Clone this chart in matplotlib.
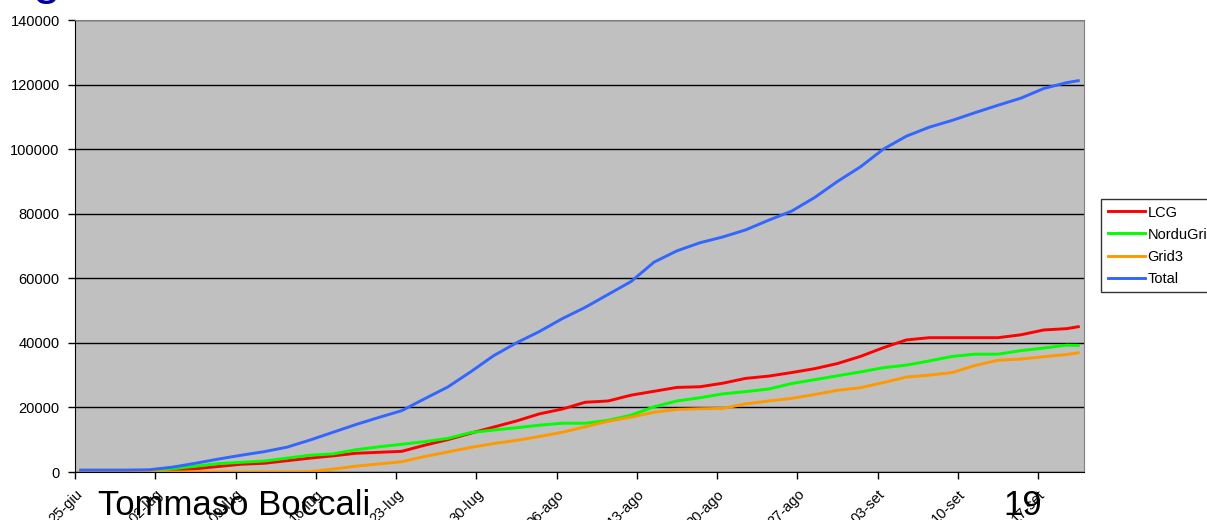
import matplotlib.pyplot as plt
import numpy as np

plt.rcParams['font.family'] = ['Liberation Sans', 'DejaVu Sans']

# days from 25-giu, sampled every 2 days (last point on day 87)
days = [0, 2, 4, 6, 8, 10, 12, 14, 16, 18, 20, 22, 24, 26, 28, 30, 32, 34, 36, 38,
        40, 42, 44, 46, 48, 50, 52, 54, 56, 58, 60, 62, 64, 66, 68, 70, 72, 74, 76,
        78, 80, 82, 84, 86, 87]

lcg = [200, 200, 200, 300, 600, 1000, 1700, 2400, 2700, 3500, 4300, 5000, 5800,
       6100, 6400, 8300, 10000, 12000, 13900, 15800, 18000, 19500, 21600, 22000,
       23800, 25000, 26200, 26400, 27500, 29000, 29700, 30800, 32000, 33600, 35800,
       38500, 40900, 41600, 41600, 41600, 41600, 42500, 44000, 44400, 45000]

nordugrid = [200, 200, 200, 300, 1000, 1800, 2600, 3000, 3400, 4300, 5200, 5600,
             6900, 7800, 8600, 9400, 10400, 12200, 13000, 13700, 14500, 15100, 15100,
             16000, 17600, 20200, 22000, 23000, 24200, 24900, 25700, 27400, 28600,
             29800, 31000, 32300, 33100, 34400, 35800, 36500, 36500, 37600, 38400,
             39300, 39200]

grid3 = [0, 0, 0, 0, 0, 0, 0, 0, 0, 0, 100, 900, 1800, 2500, 3200, 4800, 6200, 7600,
         8800, 9800, 11000, 12300, 14000, 15700, 17000, 18500, 19400, 19600, 19700,
         21100, 22000, 22800, 24000, 25300, 26100, 27700, 29400, 30000, 30800, 33000,
         34600, 35000, 35700, 36400, 36900]

total = [600, 600, 600, 700, 1500, 2700, 4000, 5200, 6300, 7700, 9900, 12300, 14700,
         16900, 19000, 22700, 26300, 31000, 36000, 40000, 43500, 47500, 51000, 55000,
         59000, 65000, 68500, 71000, 72800, 75000, 78000, 80800, 85000, 90000, 94500,
         100000, 104000, 106800, 108900, 111300, 113600, 115800, 118800, 120600, 121200]

tick_labels = ['25-giu', '02-lug', '09-lug', '16-lug', '23-lug', '30-lug', '06-ago',
               '13-ago', '20-ago', '27-ago', '03-set', '10-set', '17-set']

fig = plt.figure(figsize=(12.07, 5.2), dpi=100)
ax = fig.add_axes([75 / 1207, 48 / 520, 1009 / 1207, 452 / 520])
ax.set_facecolor('#C0C0C0')

x = np.array(days) + 0.5
ax.plot(x, lcg, color='#FF0000', lw=2.1, label='LCG')
ax.plot(x, nordugrid, color='#00FF00', lw=2.1, label='NorduGrid')
ax.plot(x, grid3, color='#FF9900', lw=2.1, label='Grid3')
ax.plot(x, total, color='#3366FF', lw=2.1, label='Total')

ax.set_xlim(0, 88)
ax.set_ylim(0, 140000)
ax.set_yticks(np.arange(0, 140001, 20000))
ax.yaxis.grid(True, color='black', lw=1)
ax.set_axisbelow(True)
ax.set_xticks(np.arange(len(tick_labels)) * 7)
ax.set_xticklabels(tick_labels, rotation=45, ha='right', va='top',
                   rotation_mode='anchor')
ax.tick_params(axis='both', direction='out', length=5, width=1, labelsize=10.5)
ax.tick_params(axis='x', pad=6)
ax.tick_params(axis='y', pad=6)
for s in ['top', 'right']:
    ax.spines[s].set_color('#808080')
for s in ['left', 'bottom']:
    ax.spines[s].set_color('black')

leg = fig.legend(loc='upper left', bbox_to_anchor=(1101 / 1207, 1 - 199 / 520),
                 fontsize=10.5, frameon=True, fancybox=False, edgecolor='black',
                 handlelength=2.6, labelspacing=0.55, borderpad=0.45,
                 handletextpad=0.15, borderaxespad=0)
leg.get_frame().set_linewidth(1)

# overlaid slide text
fig.text(98 / 1207, 5 / 520, 'Tommaso Boccali', fontsize=25, color='black',
         ha='left', va='baseline')
fig.text(1003 / 1207, 5 / 520, '19', fontsize=25, color='black',
         ha='left', va='baseline')
fig.text(33 / 1207, 1 + 6 / 520, 'g', fontsize=36, color='#000099',
         ha='left', va='baseline')

fig.savefig('out.png', dpi=100)
